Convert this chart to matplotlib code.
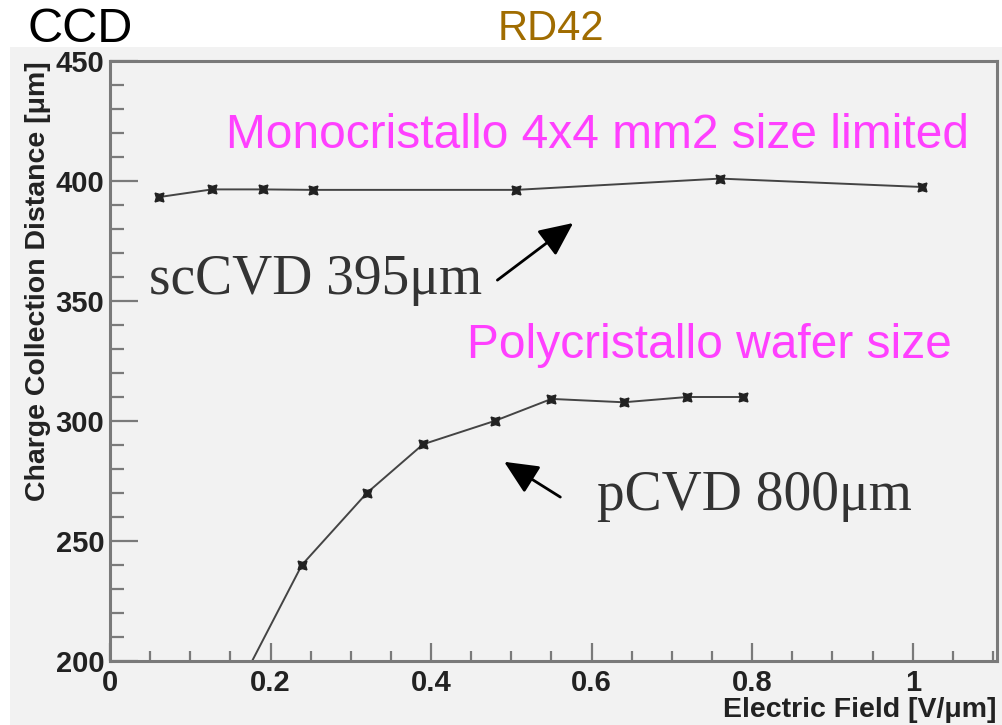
import matplotlib

matplotlib.use("Agg")
import matplotlib.pyplot as plt  # type: ignore
from matplotlib.patches import Rectangle
from matplotlib.ticker import MultipleLocator

# scCVD 395um (single crystal)
SC_FIELD = [0.061, 0.127, 0.19, 0.253, 0.506, 0.76, 1.012]
SC_CCD = [393.3, 396.5, 396.5, 396.3, 396.3, 401.0, 397.5]

# pCVD 800um (polycrystal); first point lies below the visible range
P_FIELD = [0.16, 0.239, 0.32, 0.39, 0.479, 0.55, 0.64, 0.719, 0.789]
P_CCD = [189.0, 240.0, 270.0, 290.3, 300.0, 309.2, 307.8, 310.0, 310.0]

X_LABEL = "Electric Field [V/\u03bcm]"
Y_LABEL = "Charge Collection Distance [\u03bcm]"

W, H = 1003, 725
BG = "#f2f2f2"
MAGENTA = "#ff40ff"
SANS = "Liberation Sans"
SERIF = "Liberation Serif"

plt.rcParams["font.family"] = SANS

fig = plt.figure(figsize=(W / 100, H / 100), dpi=100)
fig.patch.set_facecolor("white")

# grey canvas under the plot
bg = Rectangle((10 / W, 0), 1 - 10 / W, 1 - 47 / H, transform=fig.transFigure,
               facecolor=BG, edgecolor="none")
bg.set_zorder(-10)
fig.add_artist(bg)

ax = fig.add_axes([110 / W, 64 / H, 887 / W, 600 / H])
ax.set_zorder(5)
ax.set_facecolor(BG)

# Curves
mk = dict(marker=(4, 1, 45), markersize=9, markerfacecolor="#222222",
          markeredgecolor="#222222", markeredgewidth=1.0)
ax.plot(SC_FIELD, SC_CCD, color="#444444", lw=1.4, **mk)
ax.plot(P_FIELD, P_CCD, color="#444444", lw=1.4, **mk)

ax.set_xlim(0, 1.105)
ax.set_ylim(200, 450)

# ROOT-like frame and ticks
for sp in ax.spines.values():
    sp.set_color("#7a7a7a")
    sp.set_linewidth(2.2)
ax.xaxis.set_major_locator(MultipleLocator(0.2))
ax.xaxis.set_minor_locator(MultipleLocator(0.05))
ax.yaxis.set_major_locator(MultipleLocator(50))
ax.yaxis.set_minor_locator(MultipleLocator(10))
ax.set_xticks([0, 0.2, 0.4, 0.6, 0.8, 1.0])
ax.set_xticklabels(["0", "0.2", "0.4", "0.6", "0.8", "1"])
ax.tick_params(axis="both", which="both", direction="in", color="#7a7a7a",
               labelsize=21, labelcolor="#222222", width=1.6)
ax.tick_params(axis="x", which="major", length=13, pad=6)
ax.tick_params(axis="x", which="minor", length=7)
ax.tick_params(axis="y", which="major", length=20, pad=4)
ax.tick_params(axis="y", which="minor", length=10)
ax.tick_params(top=False, right=False, which="both")
for lbl in ax.get_xticklabels() + ax.get_yticklabels():
    lbl.set_fontweight("bold")

ax.set_xlabel(X_LABEL, fontsize=20.5, fontweight="bold", color="#222222",
              loc="right")
ax.xaxis.set_label_coords(1.0, -0.06)
ax.set_ylabel(Y_LABEL, fontsize=20.5, fontweight="bold", color="#222222",
              loc="top")
ax.yaxis.set_label_coords(-0.066, 1.0)

# Annotations
ax.text(0.144, 419, "Monocristallo 4x4 mm2 size limited", fontsize=34.5,
        color=MAGENTA, va="center", ha="left")
ax.text(0.445, 331.5, "Polycristallo wafer size", fontsize=34.5,
        color=MAGENTA, va="center", ha="left")
ax.text(0.0485, 353, "scCVD 395\u03bcm", fontsize=40, family=SERIF,
        color="#333333", va="baseline", ha="left")
ax.text(0.607, 263, "pCVD 800\u03bcm", fontsize=40, family=SERIF,
        color="#333333", va="baseline", ha="left")

arrow = dict(arrowstyle="-|>,head_length=0.65,head_width=0.3",
             mutation_scale=32, lw=2.0, color="black", shrinkA=0, shrinkB=0)
ax.annotate("", xy=(0.577, 382.5), xytext=(0.4826, 358.7), arrowprops=arrow)
ax.annotate("", xy=(0.491, 283.0), xytext=(0.561, 268.3), arrowprops=arrow)

# Header texts
fig.text(28 / W, 1 - 42 / H, "CCD", fontsize=35, color="black",
         ha="left", va="baseline")
fig.text(551 / W, 1 - 40 / H, "RD42", fontsize=30, color="#a06c00",
         ha="center", va="baseline")

fig.savefig("out.png", dpi=100, facecolor=fig.get_facecolor())
